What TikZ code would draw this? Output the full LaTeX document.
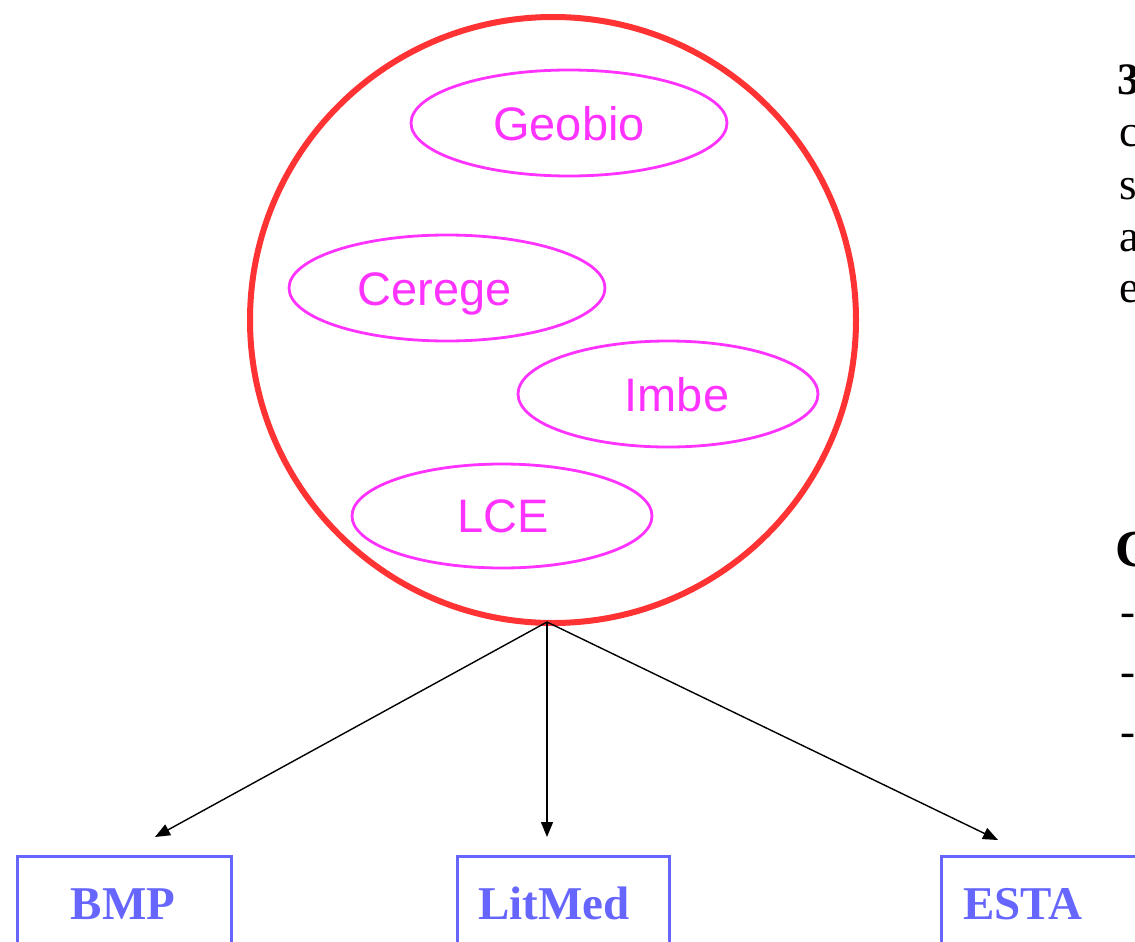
\documentclass[tikz,border=0pt]{standalone}
\usepackage{fontspec}
\setmainfont{Liberation Serif}
\newfontfamily\arialf{Liberation Sans}
\usetikzlibrary{arrows.meta,shapes.geometric}
\definecolor{ringred}{HTML}{FF3333}
\definecolor{labmag}{HTML}{FF33FF}
\definecolor{boxblue}{HTML}{6666FF}
\tikzset{
  x=1pt,y=-1pt,
  lab/.style={draw=labmag,line width=2.8pt,ellipse,inner sep=0pt},
  labtxt/.style={text=labmag,font=\arialf\fontsize{47}{47}\selectfont,anchor=base,inner sep=0pt},
  unitbox/.style={draw=boxblue,line width=3pt,rectangle,anchor=north west,inner sep=0pt},
  unittxt/.style={text=boxblue,font=\bfseries\fontsize{47}{47}\selectfont,anchor=base,inner sep=0pt},
  link/.style={draw=black,line width=1.4pt,-{Triangle[length=15pt,width=12pt]}},
  sidetxt/.style={font=\fontsize{45}{45}\selectfont,anchor=base west,inner sep=0pt}
}
\begin{document}
\begin{tikzpicture}
\useasboundingbox (0,0) rectangle (1135,942);
\clip (0,0) rectangle (1135,942);
% ring
\node (ring) [draw=ringred,line width=6pt,circle,minimum size=606pt,inner sep=0pt] at (553,320) {};
% ellipses
\node (geobio) [lab,minimum width=316pt,minimum height=106pt] at (569,123) {};
\node (cerege) [lab,minimum width=316pt,minimum height=106pt] at (447,288) {};
\node (imbe)   [lab,minimum width=300pt,minimum height=106pt] at (668,394) {};
\node (lce)    [lab,minimum width=300pt,minimum height=104pt] at (502,516) {};
\node (tgeobio) [labtxt] at (569,140) {Geobio};
\node (tcerege) [labtxt] at (435,305) {Cerege};
\node (timbe)   [labtxt] at (677,411) {Imbe};
\node (tlce)    [labtxt] at (503,532) {LCE};
% boxes
\node (bmp)    [unitbox,minimum width=214pt,minimum height=130pt] at (16,855) {};
\node (litmed) [unitbox,minimum width=212pt,minimum height=130pt] at (456,855) {};
\node (esta)   [unitbox,minimum width=220pt,minimum height=130pt] at (940,855) {};
\node (tbmp)    [unittxt] at (123,919) {BMP};
\node (tlitmed) [unittxt] at (554,919) {LitMed};
\node (testa)   [unittxt] at (1023,919) {ESTA};
% connectors
\coordinate (apex) at (547,622);
\coordinate (tipb) at (155,837);
\coordinate (tipl) at (547,837);
\coordinate (tipe) at (998,840);
\draw[link] (apex) -- (tipb);
\draw[link] (apex) -- (tipl);
\draw[link] (apex) -- (tipe);
% cut-off side text
\node (s1) [sidetxt,font=\bfseries\fontsize{45}{45}\selectfont] at (1117,94) {3};
\node (s2) [sidetxt] at (1119,146) {c};
\node (s3) [sidetxt] at (1119,199) {s};
\node (s4) [sidetxt] at (1119,251) {a};
\node (s5) [sidetxt] at (1119,302) {e};
\node (s6) [sidetxt,font=\bfseries\fontsize{52}{52}\selectfont] at (1115,566) {C};
\node (s7) [sidetxt] at (1120,626) {-};
\node (s8) [sidetxt] at (1120,686) {-};
\node (s9) [sidetxt] at (1120,746) {-};
\end{tikzpicture}
\end{document}
